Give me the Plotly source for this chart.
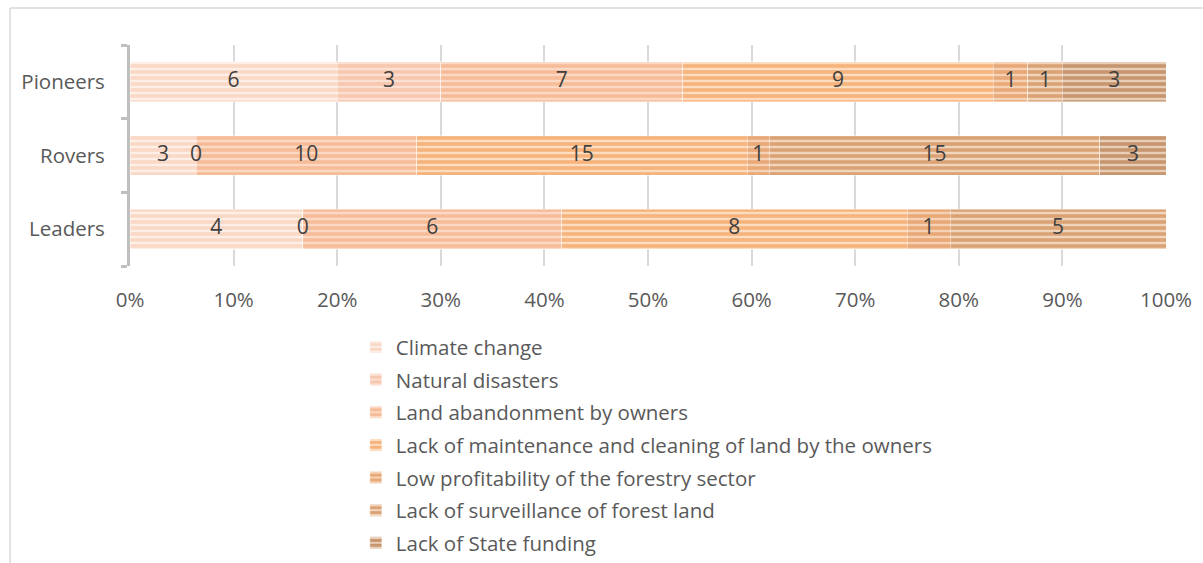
import numpy as np
import plotly.graph_objects as go

# Respondent groups (bottom to top on the chart)
groups = ["Leaders", "Rovers", "Pioneers"]

# Causes, in stacking order
causes = [
    "Climate change",
    "Natural disasters",
    "Land abandonment by owners",
    "Lack of maintenance and cleaning of land by the owners",
    "Low profitability of the forestry sector",
    "Lack of surveillance of forest land",
    "Lack of State funding",
]

# Counts per cause, listed for Leaders, Rovers, Pioneers
climate_change = [4, 3, 6]
natural_disasters = [0, 0, 3]
land_abandonment = [6, 10, 7]
lack_of_maintenance = [8, 15, 9]
low_profitability = [1, 1, 1]
lack_of_surveillance = [5, 15, 1]
lack_of_state_funding = [None, 3, 3]

series = [
    climate_change,
    natural_disasters,
    land_abandonment,
    lack_of_maintenance,
    low_profitability,
    lack_of_surveillance,
    lack_of_state_funding,
]

# (background tint, stripe colour) per cause
palette = [
    ("#fdeee6", "#f6c2a8"),
    ("#fbe0d2", "#f3ae8c"),
    ("#fbd9c4", "#f1a06c"),
    ("#fddcbf", "#ef8a38"),
    ("#f5d2b6", "#dc8038"),
    ("#f0d4bc", "#c6722e"),
    ("#e8cdb7", "#a55f26"),
]

FONT = "Open Sans, sans-serif"
TEXT_SIZE = 20.5

fig = go.Figure()

for k, (name, vals, (bg, fg)) in enumerate(zip(causes, series, palette)):
    fig.add_trace(go.Bar(
        y=groups,
        x=[0 if v is None else v for v in vals],
        name=name,
        legendgroup=f"g{k}",
        orientation="h",
        marker=dict(
            color=bg,
            line=dict(width=0.6, color="rgba(255,255,255,0.7)"),
            pattern=dict(shape="-", fgcolor=fg, size=6, solidity=0.6,
                         fillmode="overlay"),
        ),
        hoverinfo="name+x",
    ))

# Value labels, centred in each segment of the 100% stack
mat = np.array([[np.nan if v is None else v for v in s] for s in series], dtype=float)
totals = np.nansum(mat, axis=0)
shares = np.nan_to_num(mat) / totals * 100
right = np.cumsum(shares, axis=0)
mid = right - shares / 2
lx, ly, lt = [], [], []
for i in range(len(series)):
    for j, g in enumerate(groups):
        if not np.isnan(mat[i, j]):
            lx.append(mid[i, j])
            ly.append(g)
            lt.append(str(int(mat[i, j])))

fig.add_trace(go.Scatter(
    x=lx, y=ly, text=lt, mode="text",
    textfont=dict(size=21, color="#404040", family=FONT),
    showlegend=False, hoverinfo="skip",
))

fig.update_layout(
    barmode="stack",
    barnorm="percent",
    bargap=0.46,
    width=1203,
    height=563,
    margin=dict(l=130, r=37, t=45, b=297),
    paper_bgcolor="white",
    plot_bgcolor="white",
    font=dict(family=FONT, size=TEXT_SIZE, color="#595959"),
    legend=dict(
        orientation="v",
        traceorder="grouped",
        xref="paper", yref="container",
        x=0.218, xanchor="left",
        y=0.419, yanchor="top",
        font=dict(size=TEXT_SIZE, color="#595959"),
        itemwidth=30,
        tracegroupgap=3,
        bgcolor="rgba(0,0,0,0)",
    ),
    xaxis=dict(
        range=[0, 100],
        tickmode="linear", tick0=0, dtick=10,
        ticksuffix="%",
        showgrid=True, gridcolor="#d9d9d9", gridwidth=1.5,
        zeroline=False, showline=False, ticks="",
        ticklabelstandoff=19,
        fixedrange=True,
    ),
    yaxis=dict(
        categoryorder="array", categoryarray=groups,
        showline=True, linecolor="#bfbfbf", linewidth=3,
        ticks="outside", tickson="boundaries", ticklen=6,
        tickwidth=3, tickcolor="#bfbfbf",
        showgrid=False, zeroline=False,
        ticklabelstandoff=18,
        fixedrange=True,
    ),
    shapes=[
        # outer chart border (top and left edges visible)
        dict(type="line", xref="paper", yref="paper",
             x0=-0.1158, x1=1.05, y0=1.167, y1=1.167,
             line=dict(color="#d9d9d9", width=1.5)),
        dict(type="line", xref="paper", yref="paper",
             x0=-0.1158, x1=-0.1158, y0=1.167, y1=-1.5,
             line=dict(color="#d9d9d9", width=1.5)),
    ],
)

fig.write_html("out.html")
